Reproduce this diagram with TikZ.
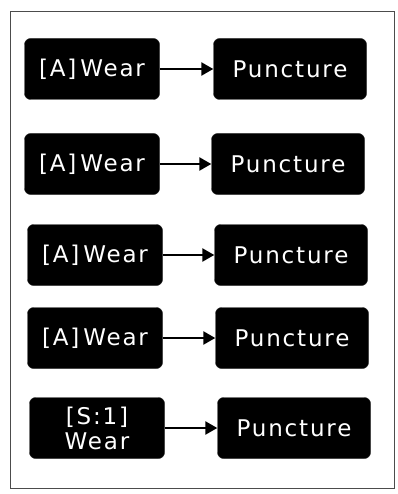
\documentclass[tikz,border=0pt]{standalone}
\usepackage{fontspec}
\setmainfont{DejaVu Sans}[LetterSpace=8]
\usetikzlibrary{arrows.meta}
\tikzset{
  box/.style={fill=black, draw=black!85, rounded corners=6pt, text=white, font=\fontsize{23}{25}\selectfont, inner sep=1pt, align=center},
  lbox/.style={box, minimum width=135pt, minimum height=61pt},
  rbox/.style={box, minimum width=153pt, minimum height=61pt},
  link/.style={line width=2.4pt, -{Triangle[length=12pt,width=13pt]}}
}
\begin{document}
\begin{tikzpicture}[x=1pt,y=-1pt]
\useasboundingbox (0,0) rectangle (397,494);
\draw[black!70, line width=1pt] (10,12) rectangle (394,488);
\node[lbox] (l1) at (92,69) {[A]\,Wear};
\node[rbox] (r1) at (290,69) {Puncture};
\node[lbox] (l2) at (92,164) {[A]\,Wear};
\node[rbox] (r2) at (288,164) {Puncture};
\node[lbox] (l3) at (95,255) {[A]\,Wear};
\node[rbox] (r3) at (291,255) {Puncture};
\node[lbox] (l4) at (95,338) {[A]\,Wear};
\node[rbox] (r4) at (292,338) {Puncture};
\node[lbox] (l5) at (97,428) {[S:1]\\Wear};
\node[rbox] (r5) at (294,428) {Puncture};
\draw[link] (l1) -- (r1);
\draw[link] (l2) -- (r2);
\draw[link] (l3) -- (r3);
\draw[link] (l4) -- (r4);
\draw[link] (l5) -- (r5);
\end{tikzpicture}
\end{document}
